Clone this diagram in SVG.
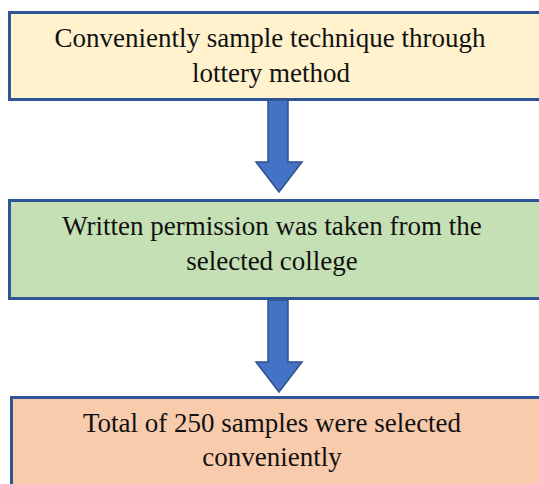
<svg xmlns="http://www.w3.org/2000/svg" width="539" height="484" viewBox="0 0 539 484">
<style>
.box{stroke:#2f5597;stroke-width:3}
.t{font-family:"Liberation Serif","Times New Roman",serif;font-size:27px;fill:#111;text-anchor:middle}
.arr{fill:#4472c4;stroke:#2f528f;stroke-width:1.5}
</style>
<rect width="539" height="484" fill="#fff"/>
<g id="node1">
<rect class="box" x="9.5" y="12.5" width="540" height="87" fill="#fff2cc"/>
<text class="t" x="270" y="47">Conveniently sample technique through</text>
<text class="t" x="271" y="82">lottery method</text>
</g>
<g id="node2">
<rect class="box" x="9.5" y="200.5" width="540" height="98" fill="#c5e0b4"/>
<text class="t" x="272" y="235">Written permission was taken from the</text>
<text class="t" x="272" y="270">selected college</text>
</g>
<g id="node3">
<rect class="box" x="11.5" y="397.5" width="540" height="100" fill="#f8cbad"/>
<text class="t" x="272" y="432">Total of 250 samples were selected</text>
<text class="t" x="272" y="466">conveniently</text>
</g>
<g id="connectors">
<path class="arr" d="M268,100 H288 V162 H302 L279,192 L256,162 H268 Z"/>
<path class="arr" d="M268,300 H288 V362 H302 L279,392 L256,362 H268 Z"/>
</g>
</svg>
